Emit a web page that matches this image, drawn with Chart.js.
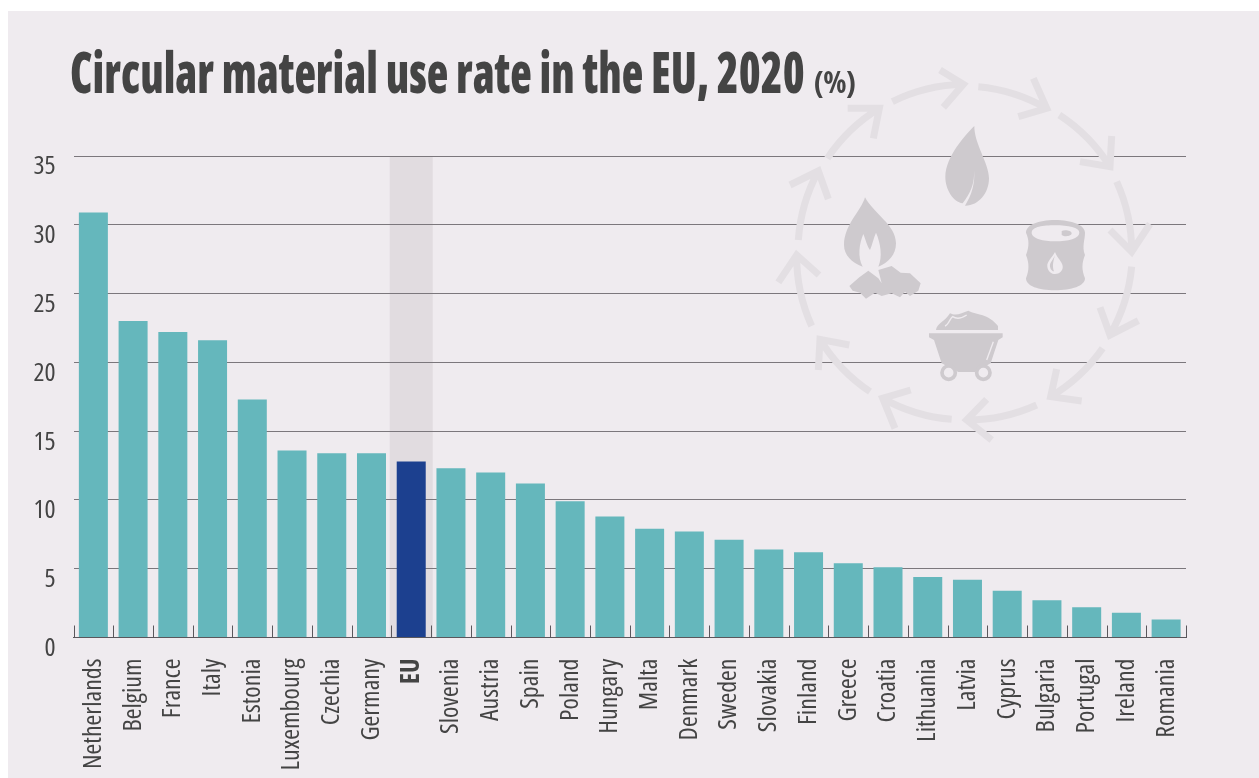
<!DOCTYPE html>
<html>
<head>
<meta charset="utf-8">
<title>Circular material use rate in the EU, 2020</title>
<script src="https://cdn.jsdelivr.net/npm/chart.js@4"></script>
<style>
  html, body { margin: 0; padding: 0; background: #fff; overflow: hidden; }
  #panel { position: absolute; left: 8px; top: 11px; width: 1251px; height: 767px; background: #efebef; }
  #wrap { position: absolute; left: 0; top: 0; width: 1259px; height: 778px; }
  #heading {
    position: absolute; left: 70px; top: 36px; margin: 0; white-space: nowrap;
    font-family: "Open Sans", sans-serif; font-weight: 800; font-stretch: 75%; font-size: 56px;
    color: #444; line-height: 70px; transform: scaleX(0.793); transform-origin: 0 0;
  }
  #heading span { display: inline-block; margin-left: 2px; font-size: 30px; font-weight: 700; transform: scaleX(1.27); transform-origin: 0 0; }
</style>
</head>
<body>
<div id="panel"></div>
<div id="wrap"><canvas id="chart" width="1259" height="778"></canvas></div>
<h1 id="heading">Circular material use rate in the EU, 2020 <span>(%)</span></h1>
<script>
const countries = ['Netherlands', 'Belgium', 'France', 'Italy', 'Estonia', 'Luxembourg', 'Czechia', 'Germany', 'EU',
  'Slovenia', 'Austria', 'Spain', 'Poland', 'Hungary', 'Malta', 'Denmark', 'Sweden', 'Slovakia', 'Finland',
  'Greece', 'Croatia', 'Lithuania', 'Latvia', 'Cyprus', 'Bulgaria', 'Portugal', 'Ireland', 'Romania']
const rates = [30.9, 23.0, 22.2, 21.6, 17.3, 13.6, 13.4, 13.4, 12.8,
  12.3, 12.0, 11.2, 9.9, 8.8, 7.9, 7.7, 7.1, 6.4, 6.2,
  5.4, 5.1, 4.4, 4.2, 3.4, 2.7, 2.2, 1.8, 1.3]
const highlighted = 'EU'

const teal = '#65b7bc'
const navy = '#1c408f'
const textColor = '#444'

// the pale EU column sits behind the grid, ticks stand up from the axis
const behindGrid = {
  id: 'behindGrid',
  beforeDraw(c) {
    const x = c.scales.x, y = c.scales.y, ctx = c.ctx
    const cx = x.getPixelForValue(countries.indexOf(highlighted))
    ctx.save()
    ctx.fillStyle = '#e1dce0'
    ctx.fillRect(cx - 21.5, y.getPixelForValue(35), 43, y.getPixelForValue(0) - y.getPixelForValue(35))
    ctx.restore()
    // y labels sit 2px higher than the top baseline gives
    y.getLabelItems().forEach(item => {
      if (!item.moved) { item.options.translation[1] -= 2; item.moved = true }
    })
  }
}

const axisTicks = {
  id: 'axisTicks',
  afterDraw(c) {
    const x = c.scales.x, y0 = c.scales.y.getPixelForValue(0), ctx = c.ctx
    const step = x.getPixelForValue(1) - x.getPixelForValue(0)
    ctx.save()
    ctx.strokeStyle = '#5a575c'
    ctx.lineWidth = 1
    for (let i = 0; i <= countries.length; i++) {
      const px = Math.round(x.getPixelForValue(0) + (i - 0.5) * step) + 0.5
      ctx.beginPath()
      ctx.moveTo(px, y0 - 12)
      ctx.lineTo(px, y0)
      ctx.stroke()
    }
    ctx.restore()
  }
}

// recycling wheel, drawn in 3x units
const arrows = [
  'M367,95 A507,507 0 0 1 580,43 M510,0 L580,43 L520,112',
  'M625,50 A507,507 0 0 1 830,115 M790,25 L830,115 L745,140',
  'M868,135 A507,507 0 0 1 1020,290 M1025,198 L1020,290 L930,275',
  'M1040,335 A507,507 0 0 1 1085,545 M1140,462 L1085,545 L1020,480',
  'M1085,590 A507,507 0 0 1 1020,795 M990,712 L1020,795 L1105,752',
  'M998,835 A507,507 0 0 1 842,980 M860,897 L842,980 L935,993',
  'M800,1005 A507,507 0 0 1 590,1050 M650,988 L590,1050 L665,1110',
  'M545,1048 A507,507 0 0 1 338,985 M422,960 L338,985 L375,1075',
  'M300,965 A507,507 0 0 1 150,808 M238,825 L150,808 L145,900',
  'M125,768 A507,507 0 0 1 80,555 M147,615 L80,555 L25,637',
  'M85,510 A507,507 0 0 1 145,303 M60,345 L145,303 L175,387',
  'M172,265 A507,507 0 0 1 328,115 M233,115 L328,115 L310,205'
]
const iconShapes = [
  // leaf
  'M613,168 C590,190 526,260 526,320 C526,360 550,395 578,400 C600,372 615,340 612,300 C616,340 605,375 585,407 C625,408 657,370 657,325 C657,280 612,220 613,168 Z',
  // flame with inner cut
  'M285,382 C275,420 222,465 222,525 C222,555 245,578 278,590 C262,560 268,520 280,492 C287,510 292,530 300,540 C307,525 310,505 318,488 C332,520 338,560 325,590 C355,578 378,555 378,520 C378,465 310,430 285,382 Z',
  // coals
  'M238,648 L268,622 L295,602 L325,625 L335,640 L325,600 L365,588 L392,608 L420,610 L452,640 L445,662 L420,678 L405,665 L390,682 L365,670 L335,678 L315,668 L288,686 L270,668 L248,662 Z',
  // barrel
  'M855,450 C905,450 945,465 945,488 C945,510 935,530 945,555 C935,580 935,600 945,625 C945,648 905,661 855,661 C805,661 768,648 768,625 C778,600 778,580 768,555 C778,530 778,510 768,488 C768,465 805,450 855,450 Z',
  // heap of the cart
  'M498,780 C500,760 525,755 540,730 C560,740 575,728 595,722 C620,735 655,730 684,768 L684,780 Z',
  // cart rim and tub
  'M477,790 L698,790 L698,802 L685,810 L662,880 L615,906 L565,906 L515,880 L492,810 L477,802 Z'
]
const iconCuts = [
  'M785,488 C785,470 820,466 855,466 C895,466 928,472 928,488 C928,505 895,514 855,514 C820,514 785,505 785,488 Z',
  'M855,546 C845,565 830,575 832,590 C834,605 845,612 855,612 C868,612 880,602 878,588 C876,574 862,565 855,546 Z'
]
const iconRings = [[536, 908], [640, 908]]

const wheel = {
  id: 'wheel',
  beforeDatasetsDraw(c) {
    const ctx = c.ctx
    ctx.save()
    ctx.translate(770, 70)
    ctx.scale(1 / 3, 1 / 3)
    ctx.strokeStyle = '#e3dfe3'
    ctx.lineWidth = 21
    ctx.lineCap = 'butt'
    ctx.lineJoin = 'miter'
    arrows.forEach(a => ctx.stroke(new Path2D(a)))
    ctx.fillStyle = '#cecace'
    iconShapes.forEach(s => ctx.fill(new Path2D(s)))
    ctx.fillStyle = '#efebef'
    ctx.fill(new Path2D(iconCuts[0]))
    ctx.fill(new Path2D(iconCuts[1]))
    ctx.fillStyle = '#cecace'
    ctx.fill(new Path2D('M875,483 C885,478 905,482 905,490 C905,498 885,502 875,495 Z'))
    ctx.fill(new Path2D('M855,555 C850,570 838,578 840,590 C842,600 848,604 852,604 C846,590 850,572 855,555 Z'))
    ctx.strokeStyle = '#cecace'
    ctx.lineWidth = 11
    iconRings.forEach(r => {
      ctx.beginPath()
      ctx.arc(r[0], r[1], 20, 0, Math.PI * 2)
      ctx.fillStyle = '#efebef'
      ctx.fill()
      ctx.stroke()
    })
    ctx.strokeStyle = '#efebef'
    ctx.lineWidth = 4
    ctx.stroke(new Path2D('M525,768 C535,765 540,745 548,740 C560,748 575,745 590,735'))
    ctx.stroke(new Path2D('M670,815 L650,870'))
    ctx.restore()
  }
}

new Chart(document.getElementById('chart'), {
  type: 'bar',
  data: {
    labels: countries,
    datasets: [{
      data: rates,
      backgroundColor: countries.map(n => n === highlighted ? navy : teal),
      barPercentage: 0.73,
      categoryPercentage: 1
    }]
  },
  options: {
    responsive: false,
    animation: false,
    layout: { padding: { left: 0, top: 156, right: 73, bottom: 0 } },
    plugins: { legend: { display: false }, tooltip: { enabled: false }, title: { display: false } },
    scales: {
      x: {
        afterFit(s) { s.height = 140.5 },
        grid: { display: false },
        border: { display: true, color: '#5a575c', width: 1 },
        ticks: {
          minRotation: 90,
          maxRotation: 90,
          autoSkip: false,
          padding: 13,
          color: textColor,
          font: ctx => ({
            family: '"Open Sans", sans-serif',
            size: 26,
            // font shorthand, so the condensed width goes along with the weight
            weight: (countries[ctx.index] === highlighted ? 'bold' : 'normal') + ' extra-condensed'
          })
        }
      },
      y: {
        min: 0,
        max: 35,
        afterFit(s) { s.width = 73.5 },
        border: { display: false },
        grid: { color: '#7b777c', lineWidth: 1, drawTicks: false },
        ticks: {
          stepSize: 5,
          align: 'start',
          padding: 18,
          color: textColor,
          font: { family: '"Open Sans", sans-serif', size: 26, weight: 'normal extra-condensed' }
        }
      }
    }
  },
  plugins: [behindGrid, wheel, axisTicks]
})
</script>
</body>
</html>
